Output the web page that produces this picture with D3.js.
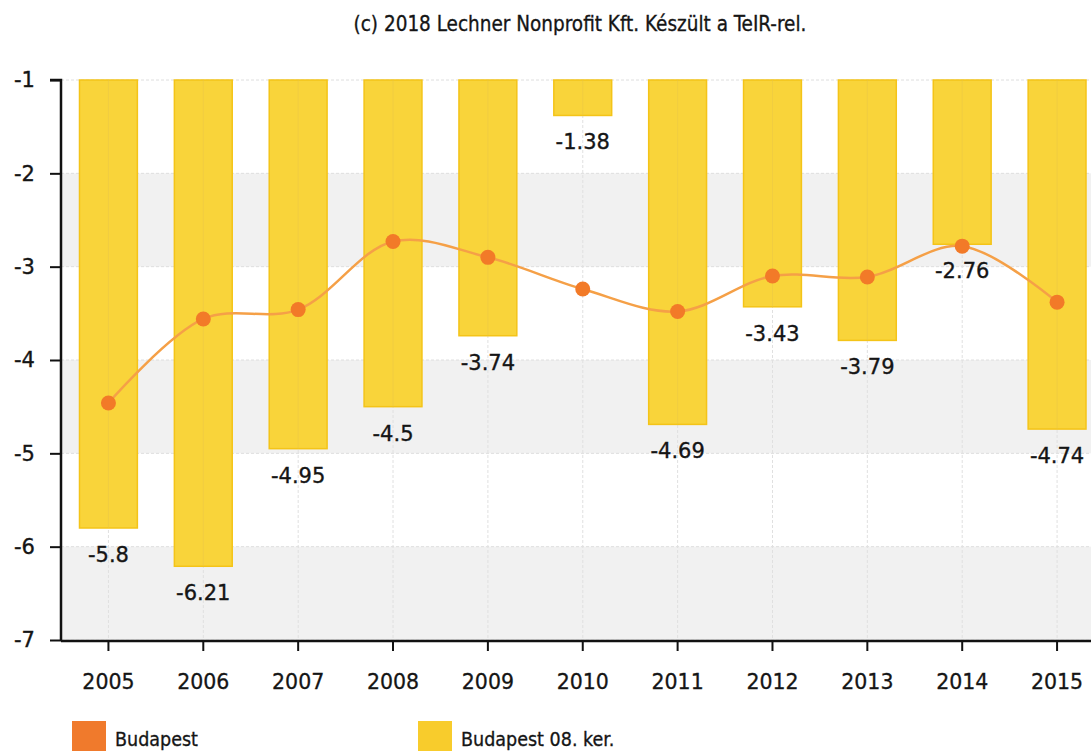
<!DOCTYPE html>
<html>
<head>
<meta charset="utf-8">
<script src="https://cdn.jsdelivr.net/npm/d3@7/dist/d3.min.js"></script>
<style>
  html, body { margin: 0; padding: 0; background: #ffffff; }
  svg { display: block; }
  .cond { font-family: "DejaVu Sans Condensed", "DejaVu Sans", sans-serif; font-stretch: condensed; }
  .wide { font-family: "DejaVu Sans", Verdana, sans-serif; }
</style>
</head>
<body>
<svg id="chart" width="1091" height="751"></svg>
<script>
const years = ["2005","2006","2007","2008","2009","2010","2011","2012","2013","2014","2015"];
const district = [-5.8, -6.21, -4.95, -4.5, -3.74, -1.38, -4.69, -3.43, -3.79, -2.76, -4.74];
const budapest = [-4.46, -3.56, -3.46, -2.73, -2.90, -3.24, -3.48, -3.10, -3.11, -2.78, -3.38];
const yTicks = [-1, -2, -3, -4, -5, -6, -7];
const seriesNames = ["Budapest", "Budapest 08. ker."];
const titleText = "(c) 2018 Lechner Nonprofit Kft. Készült a TeIR-rel.";

(function () {
const svg = d3.select("#chart");
const mLeft = 61, mTop = 80, mBottom = 640, rightEnd = 1104.5;
const ink = "#151515";

const x = d3.scaleBand().domain(years).range([mLeft, rightEnd]).paddingInner(0.39).paddingOuter(0.195);
const y = d3.scaleLinear().domain([-7, -1]).range([mBottom, mTop]);
const cx = d => x(d) + x.bandwidth() / 2;

// Title
svg.append("text").attr("class", "cond")
  .attr("x", 580).attr("y", 31).attr("text-anchor", "middle")
  .attr("font-size", 20.5).attr("fill", ink).attr("stroke", ink).attr("stroke-width", 0.3)
  .text(titleText);

// Alternating bands
const bandPairs = [[-2, -3], [-4, -5], [-6, -7]];
svg.append("g").selectAll("rect").data(bandPairs).join("rect")
  .attr("x", mLeft).attr("width", 1091 - mLeft)
  .attr("y", d => y(d[0])).attr("height", d => y(d[1]) - y(d[0]))
  .attr("fill", "#f1f1f1");

// Horizontal grid
svg.append("g").selectAll("line").data(yTicks).join("line")
  .attr("x1", mLeft).attr("x2", 1091)
  .attr("y1", d => y(d)).attr("y2", d => y(d))
  .attr("stroke", "#dedede").attr("stroke-width", 1).attr("stroke-dasharray", "3,2");

// Vertical grid
svg.append("g").selectAll("line").data(years).join("line")
  .attr("x1", d => cx(d)).attr("x2", d => cx(d))
  .attr("y1", mTop).attr("y2", mBottom)
  .attr("stroke", "#e0e0e0").attr("stroke-width", 1).attr("stroke-dasharray", "3,2");

// Bars (hang from -1)
svg.append("g").selectAll("rect").data(years).join("rect")
  .attr("x", d => x(d)).attr("width", x.bandwidth())
  .attr("y", y(-1))
  .attr("height", (d, i) => y(district[i]) - y(-1))
  .attr("fill", "#f9d43a").attr("stroke", "#f4c418").attr("stroke-width", 1.5);

// Vertical grid faint over bars
svg.append("g").selectAll("line").data(years).join("line")
  .attr("x1", d => cx(d)).attr("x2", d => cx(d))
  .attr("y1", mTop).attr("y2", (d, i) => y(district[i]))
  .attr("stroke", "#e8c54a").attr("stroke-width", 1).attr("opacity", 0.45);

// Bar labels
svg.append("g").selectAll("text").data(years).join("text").attr("class", "wide")
  .attr("x", d => cx(d)).attr("y", (d, i) => y(district[i]) + 34)
  .attr("text-anchor", "middle").attr("font-size", 21).attr("fill", ink)
  .attr("stroke", ink).attr("stroke-width", 0.35)
  .text((d, i) => district[i]);

// Line
const line = d3.line().x((d, i) => cx(years[i])).y(d => y(d)).curve(d3.curveCatmullRom.alpha(0.5));
svg.append("path").datum(budapest).attr("d", line)
  .attr("fill", "none").attr("stroke", "#f5a047").attr("stroke-width", 2.5);

svg.append("g").selectAll("circle").data(budapest).join("circle")
  .attr("cx", (d, i) => cx(years[i])).attr("cy", d => y(d)).attr("r", 7.5)
  .attr("fill", "#f27a28");

// Axes
const yAxis = d3.axisLeft(y).tickValues(yTicks).tickSize(11).tickPadding(15).tickFormat(d3.format("d"));
const gy = svg.append("g").attr("transform", `translate(${mLeft},0)`).call(yAxis);
gy.select(".domain").attr("stroke", "#111").attr("stroke-width", 2.5).attr("d", `M-11,${mTop}H0V${mBottom}`);
gy.selectAll(".tick line").attr("stroke", "#111").attr("stroke-width", 2);
gy.selectAll(".tick text").attr("class", "wide").attr("font-size", 21).attr("fill", ink)
  .attr("stroke", ink).attr("stroke-width", 0.35)
  .text(d => String(d));

const xAxis = d3.axisBottom(x).tickSize(10).tickPadding(23);
const gx = svg.append("g").attr("transform", `translate(0,${mBottom + 1})`).call(xAxis);
gx.select(".domain").attr("stroke", "#111").attr("stroke-width", 2.5).attr("d", `M${mLeft},0H1091`);
gx.selectAll(".tick line").attr("stroke", "#111").attr("stroke-width", 2);
gx.selectAll(".tick text").attr("class", "wide").attr("font-size", 20.5).attr("fill", ink)
  .attr("stroke", ink).attr("stroke-width", 0.3);

// Legend
const legend = [
  {name: seriesNames[0], color: "#f07a2c", x: 72},
  {name: seriesNames[1], color: "#f8cc2c", x: 418}
];
const lg = svg.append("g").selectAll("g").data(legend).join("g")
  .attr("transform", d => `translate(${d.x},721)`);
lg.append("rect").attr("width", 34).attr("height", 34).attr("fill", d => d.color);
lg.append("text").attr("class", "cond").attr("x", 43).attr("y", 25)
  .attr("font-size", 19.5).attr("fill", ink).attr("stroke", ink).attr("stroke-width", 0.3)
  .text(d => d.name);
})();
</script>
</body>
</html>
